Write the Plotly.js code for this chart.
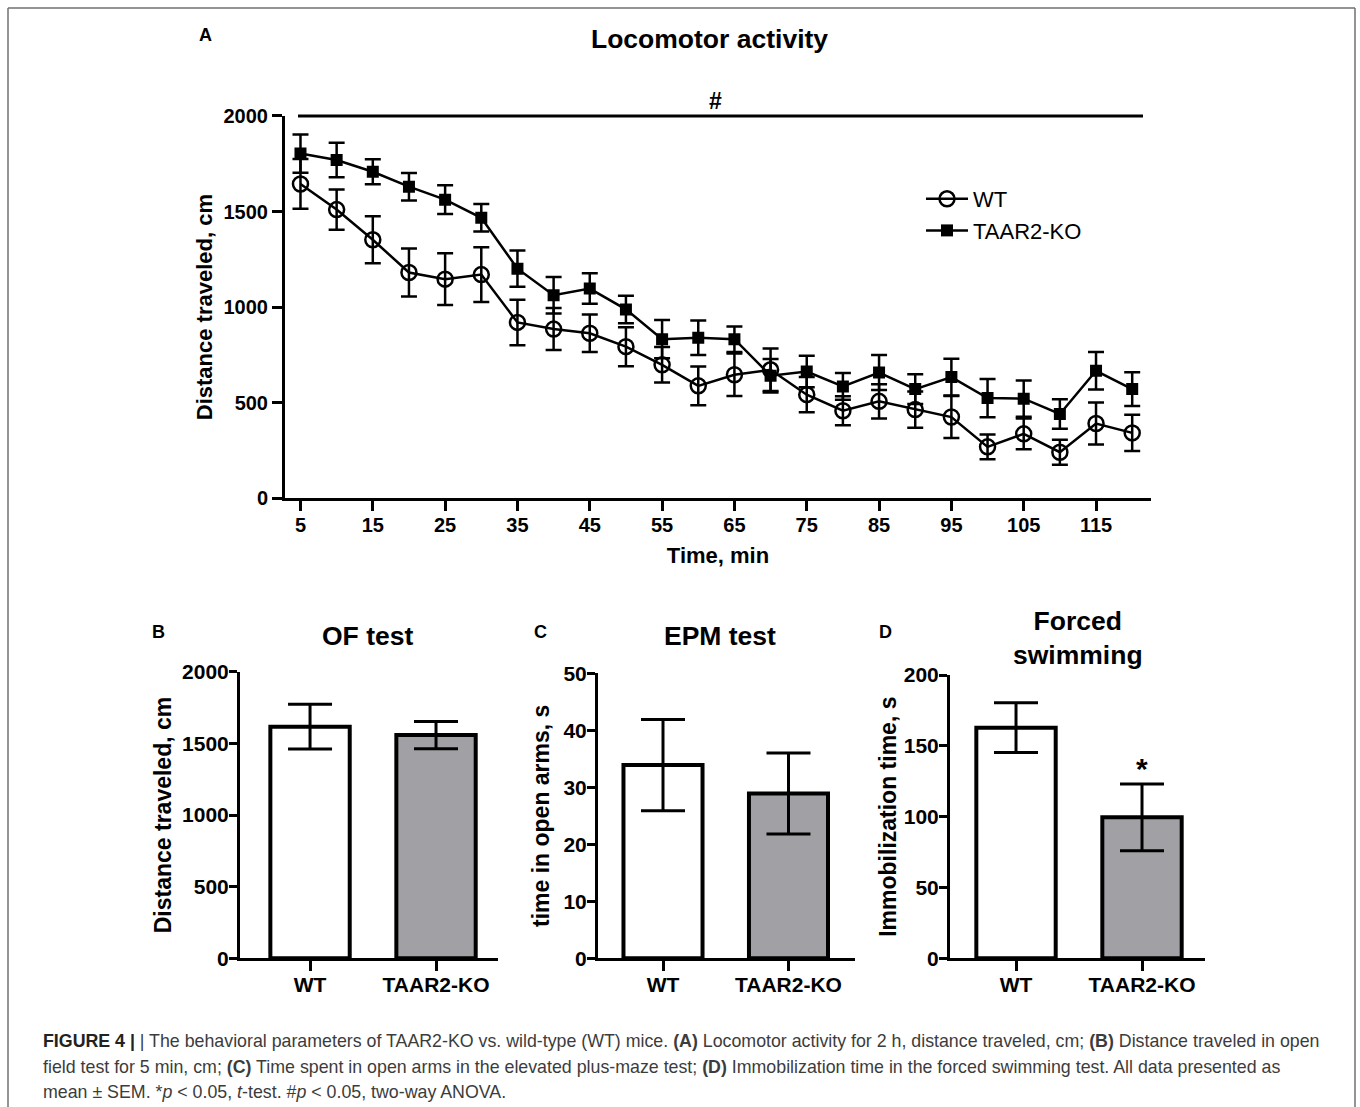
<!DOCTYPE html>
<html><head><meta charset="utf-8">
<script src="https://cdn.plot.ly/plotly-3.0.1.min.js"></script>
<style>html,body{margin:0;padding:0;background:#fff}#chart{width:1360px;height:1107px}</style>
</head><body><div id="chart"></div>
<script>
// ---- Data ----
const times   = [5,10,15,20,25,30,35,40,45,50,55,60,65,70,75,80,85,90,95,100,105,110,115,120];
const wtMean  = [1644,1510,1352,1181,1146,1170,920,885,863,793,698,588,646,672,542,458,507,464,425,269,337,241,391,342];
const wtSem   = [130,105,123,125,135,143,119,110,98,102,93,101,111,111,92,76,90,95,110,65,80,65,110,95];
const koMean  = [1803,1769,1708,1630,1562,1467,1201,1062,1097,988,832,840,832,641,663,585,658,571,634,524,521,441,667,571];
const koSem   = [100,90,65,72,75,72,95,95,80,72,100,90,67,88,82,70,92,78,96,100,95,77,98,88];
const timeTicks = [5,15,25,35,45,55,65,75,85,95,105,115];

const groups  = ['WT','TAAR2-KO'];
const ofMean  = [1616,1558];
const ofSem   = [156,95];
const epmMean = [33.9,28.9];
const epmSem  = [8.0,7.1];
const fsMean  = [162.8,99.5];
const fsSem   = [17.6,23.5];
const barColors = ['#ffffff','#a1a1a5'];

// ---- Layout helpers ----
const W = 1360, H = 1107;
const fx = p => p / W;
const fy = p => 1 - p / H;
const FONT = '"Liberation Sans", Arial, sans-serif';

function axisBase(extra, tickSize) {
  return Object.assign({
    showline: true, linecolor: '#000', linewidth: 3,
    ticks: 'outside', ticklen: 10, tickwidth: 3, tickcolor: '#000',
    showgrid: false, zeroline: false, fixedrange: true, automargin: false,
    tickfont: {family: FONT, size: tickSize || 20, color: '#000', weight: 'bold'}
  }, extra);
}
function axTitle(text, standoff, size) {
  return {text: text, standoff: standoff, font: {family: FONT, size: size, color: '#000', weight: 'bold'}};
}

const traces = [
  {
    type: 'scatter', mode: 'lines+markers', name: 'WT',
    x: times, y: wtMean, xaxis: 'x', yaxis: 'y',
    line: {color: '#000', width: 2.5},
    marker: {symbol: 'circle-open', size: 15, color: '#000', line: {width: 2.5, color: '#000'}},
    error_y: {type: 'data', array: wtSem, visible: true, color: '#000', thickness: 2.5, width: 8}
  },
  {
    type: 'scatter', mode: 'lines+markers', name: 'TAAR2-KO',
    x: times, y: koMean, xaxis: 'x', yaxis: 'y',
    line: {color: '#000', width: 2.5},
    marker: {symbol: 'square', size: 12, color: '#000'},
    error_y: {type: 'data', array: koSem, visible: true, color: '#000', thickness: 2.5, width: 8}
  }
];

function barTrace(means, sems, xa, ya) {
  return {
    type: 'bar', x: groups, y: means, xaxis: xa, yaxis: ya, showlegend: false, width: 0.63,
    marker: {color: barColors, line: {color: '#000', width: 4}},
    error_y: {type: 'data', array: sems, visible: true, color: '#000', thickness: 3, width: 22}
  };
}
traces.push(barTrace(ofMean, ofSem, 'x2', 'y2'));
traces.push(barTrace(epmMean, epmSem, 'x3', 'y3'));
traces.push(barTrace(fsMean, fsSem, 'x4', 'y4'));

function txt(text, px, py, size, bold, extra) {
  return Object.assign({
    text: text, xref: 'paper', yref: 'paper', x: fx(px), y: fy(py),
    xanchor: 'center', yanchor: 'middle', showarrow: false,
    font: {family: FONT, size: size, color: '#000', weight: bold ? 'bold' : 'normal'}
  }, extra || {});
}
const capFont = {family: FONT, size: 17.8, color: '#3c3c3c'};
function cap(text, py) {
  return {text: text, xref: 'paper', yref: 'paper', x: fx(41), y: fy(py), xanchor: 'left', yanchor: 'middle',
          showarrow: false, font: capFont, align: 'left'};
}

const layout = {
  width: W, height: H,
  margin: {l: 0, r: 0, t: 0, b: 0},
  paper_bgcolor: '#fff', plot_bgcolor: '#fff',
  font: {family: FONT, color: '#000'},
  showlegend: true,
  legend: {
    x: fx(921), y: fy(178), xanchor: 'left', yanchor: 'top', itemwidth: 42,
    bgcolor: 'rgba(0,0,0,0)', borderwidth: 0,
    font: {family: FONT, size: 22, color: '#000'}
  },
  xaxis: axisBase({domain: [fx(285), fx(1151)], range: [2.86, 122.6], tickmode: 'array', tickvals: timeTicks,
                   ticklabelstandoff: -3, anchor: 'y', title: axTitle('Time, min', 13, 22)}),
  yaxis: axisBase({domain: [fy(498.3), fy(115.9)], range: [0, 2000], tick0: 0, dtick: 500,
                   anchor: 'x', title: axTitle('Distance traveled, cm', 5, 22)}),
  xaxis2: axisBase({domain: [fx(240), fx(498)], range: [-0.556, 1.492], type: 'category', anchor: 'y2',
                    ticklabelstandoff: -5}, 21),
  yaxis2: axisBase({domain: [fy(958.3), fy(671.7)], range: [0, 2000], tick0: 0, dtick: 500, anchor: 'x2',
                    ticklen: 8, ticklabelstandoff: -4, title: axTitle('Distance traveled, cm', 5, 23)}, 21),
  xaxis3: axisBase({domain: [fx(598), fx(855)], range: [-0.518, 1.53], type: 'category', anchor: 'y3',
                    ticklabelstandoff: -5}, 21),
  yaxis3: axisBase({domain: [fy(958.3), fy(673.3)], range: [0, 50], tick0: 0, dtick: 10, anchor: 'x3',
                    ticklen: 8, ticklabelstandoff: -4, title: axTitle('time in open arms, s', 8, 23)}, 21),
  xaxis4: axisBase({domain: [fx(950), fx(1205)], range: [-0.524, 1.5], type: 'category', anchor: 'y4',
                    ticklabelstandoff: -5}, 21),
  yaxis4: axisBase({domain: [fy(958.3), fy(675)], range: [0, 200], tick0: 0, dtick: 50, anchor: 'x4',
                    ticklen: 8, ticklabelstandoff: -4, title: axTitle('Immobilization time, s', 1, 23)}, 21),
  shapes: [
    {type: 'line', xref: 'paper', yref: 'paper', x0: fx(8), x1: fx(8), y0: fy(8), y1: fy(1107), line: {color: '#707070', width: 1.5}},
    {type: 'line', xref: 'paper', yref: 'paper', x0: fx(8), x1: fx(1355), y0: fy(8), y1: fy(8), line: {color: '#707070', width: 1.5}},
    {type: 'line', xref: 'paper', yref: 'paper', x0: fx(1355), x1: fx(1355), y0: fy(8), y1: fy(1107), line: {color: '#707070', width: 1.5}},
    {type: 'line', xref: 'paper', yref: 'paper', x0: fx(298), x1: fx(1143), y0: fy(116), y1: fy(116), line: {color: '#000', width: 3}}
  ],
  annotations: [
    txt('A', 205, 35, 18, true),
    txt('Locomotor activity', 709, 39, 26.5, true),
    txt('#', 715, 101, 23, true),
    txt('B', 158, 632, 18, true),
    txt('OF test', 367, 636, 26.5, true),
    txt('C', 540, 632, 18, true),
    txt('EPM test', 720, 636, 26.5, true),
    txt('D', 885, 632, 18, true),
    txt('Forced<br>swimming', 1078, 637.5, 26.5, true),
    {text: '*', xref: 'x4', yref: 'y4', x: 'TAAR2-KO', y: fsMean[1] + fsSem[1], xanchor: 'center', yanchor: 'bottom',
     yshift: -3, showarrow: false, font: {family: FONT, size: 30, color: '#000', weight: 'bold'}},
    cap('<b style="color:#222">FIGURE 4 |</b> | The behavioral parameters of TAAR2-KO vs. wild-type (WT) mice. <b>(A)</b> Locomotor activity for 2 h, distance traveled, cm; <b>(B)</b> Distance traveled in open', 1041),
    cap('field test for 5 min, cm; <b>(C)</b> Time spent in open arms in the elevated plus-maze test; <b>(D)</b> Immobilization time in the forced swimming test. All data presented as', 1067),
    cap('mean ± SEM. *<i>p</i> &lt; 0.05, <i>t</i>-test. #<i>p</i> &lt; 0.05, two-way ANOVA.', 1092)
  ]
};

Plotly.newPlot('chart', traces, layout, {displayModeBar: false, staticPlot: true});
</script>
</body></html>
